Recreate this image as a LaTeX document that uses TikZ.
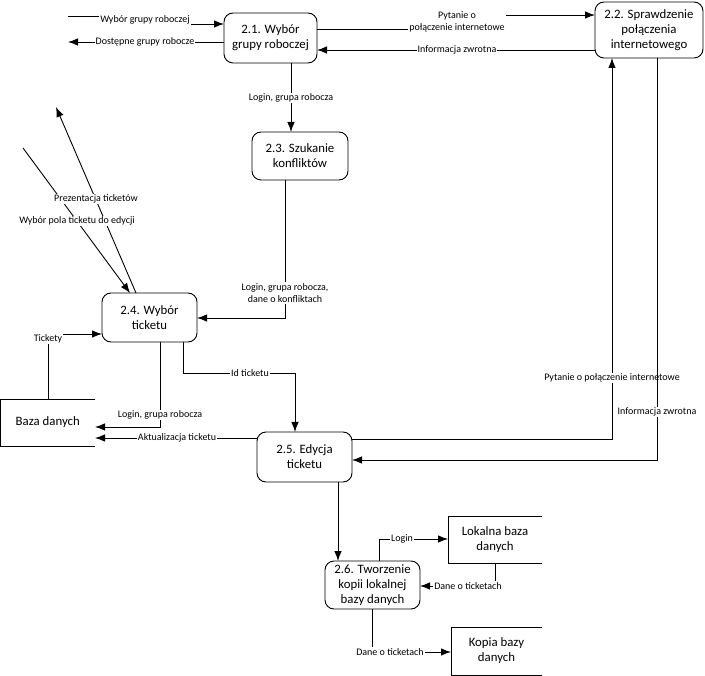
\documentclass[tikz,border=0pt]{standalone}
\usepackage{fontspec}
\setmainfont{Carlito}
\usetikzlibrary{arrows.meta}
\begin{document}
\begin{tikzpicture}[x=1pt,y=-1pt,
  proc/.style={draw,rounded corners=9pt,line width=0.9pt,align=center,inner sep=0pt,outer sep=0pt,
    font=\fontsize{12.8}{15}\selectfont},
  store/.style={inner sep=0pt,outer sep=0pt,align=center,font=\fontsize{12.8}{15}\selectfont},
  arr/.style={line width=0.9pt,-{Latex[length=10pt,width=7.5pt]}},
  lab/.style={fill=white,inner sep=1pt,align=center,font=\fontsize{10}{12.5}\selectfont}]
\useasboundingbox (0,0) rectangle (705,676);
% processes
\node[proc,minimum width=93pt,minimum height=50pt] (n21) at (270.5,38) {2.1. Wybór\\grupy roboczej};
\node[proc,minimum width=108pt,minimum height=56pt] (n22) at (649,30) {2.2. Sprawdzenie\\połączenia\\internetowego};
\node[proc,minimum width=96pt,minimum height=48pt] (n23) at (300,156) {2.3. Szukanie\\konfliktów};
\node[proc,minimum width=95pt,minimum height=49pt] (n24) at (149.5,317.5) {2.4. Wybór\\ticketu};
\node[proc,minimum width=95pt,minimum height=50pt] (n25) at (304.5,457) {2.5. Edycja\\ticketu};
\node[proc,minimum width=95pt,minimum height=48pt] (n26) at (372.5,585) {2.6. Tworzenie\\kopii lokalnej\\bazy danych};
% data stores
\node[store,minimum width=94.5pt,minimum height=47pt] (baza) at (47.75,422.5) {Baza danych};
\node[store,minimum width=94pt,minimum height=47pt] (lok) at (495,539.5) {Lokalna baza\\danych};
\node[store,minimum width=91pt,minimum height=48pt] (kop) at (496.5,651) {Kopia bazy\\danych};
\draw[line width=0.9pt] (baza.north east) -- (baza.north west) -- (baza.south west) -- (baza.south east);
\draw[line width=0.9pt] (lok.north east) -- (lok.north west) -- (lok.south west) -- (lok.south east);
\draw[line width=0.9pt] (kop.north east) -- (kop.north west) -- (kop.south west) -- (kop.south east);
% free ends
\coordinate (e1) at (68,16);
\coordinate (e2) at (68,42);
\coordinate (e7) at (56,107);
\coordinate (e8) at (23,148);
% connectors
\draw[arr] (e1) -- (145,16) -- (145,24) -- (n21.west |- 0,24);
\node[lab] at (145,20) {Wybór grupy roboczej};
\draw[arr] (n21.west |- 0,42) -- (e2);
\node[lab] at (145,42) {Dostępne grupy robocze};
\draw[arr] (n21.east |- 0,29) -- (457,29) -- (457,15) -- (n22.west |- 0,15);
\node[lab] at (457,22) {Pytanie o\\połączenie internetowe};
\draw[arr] (n22.west |- 0,50) -- (n21.east |- 0,50);
\node[lab] at (457,50) {Informacja zwrotna};
\draw[arr] (n21.south -| 291,0) -- (n23.north -| 291,0);
\node[lab] at (291,98) {Login, grupa robocza};
\draw[arr] (n23.south -| 285,0) -- (285,318) -- (n24.east |- 0,318);
\node[lab] at (285,293) {Login, grupa robocza,\\dane o konfliktach};
\draw[arr] (n24.north -| 136,0) -- (e7);
\draw[arr] (e8) -- (n24.north -| 130,0);
\node[lab] at (96,199) {Prezentacja ticketów};
\node[lab] at (77,221) {Wybór pola ticketu do edycji};
\draw[arr] (baza.north -| 48,0) -- (48,334) -- (n24.west |- 0,334);
\node[lab] at (48,339) {Tickety};
\draw[arr] (n24.south -| 160,0) -- (160,427) -- (baza.east |- 0,427);
\node[lab] at (160,415) {Login, grupa robocza};
\draw[arr] (n25.west |- 0,438) -- (baza.east |- 0,438);
\node[lab] at (177,438) {Aktualizacja ticketu};
\draw[arr] (n24.south -| 183,0) -- (183,373) -- (295,373) -- (n25.north -| 295,0);
\node[lab] at (250,373) {Id ticketu};
\draw[arr] (n25.east |- 0,439) -- (612,439) -- (n22.south -| 612,0);
\node[lab] at (612,378) {Pytanie o połączenie internetowe};
\draw[arr] (n22.south -| 657,0) -- (657,460) -- (n25.east |- 0,460);
\node[lab] at (657,412) {Informacja zwrotna};
\draw[arr] (n25.south -| 338,0) -- (n26.north -| 338,0);
\draw[arr] (n26.north -| 379,0) -- (379,539) -- (lok.west |- 0,539);
\node[lab] at (402,539) {Login};
\draw[arr] (lok.south -| 495,0) -- (495,586) -- (n26.east |- 0,586);
\node[lab] at (468,586) {Dane o ticketach};
\draw[arr] (n26.south -| 372,0) -- (372,652) -- (kop.west |- 0,652);
\node[lab] at (390,652) {Dane o ticketach};
\end{tikzpicture}
\end{document}
